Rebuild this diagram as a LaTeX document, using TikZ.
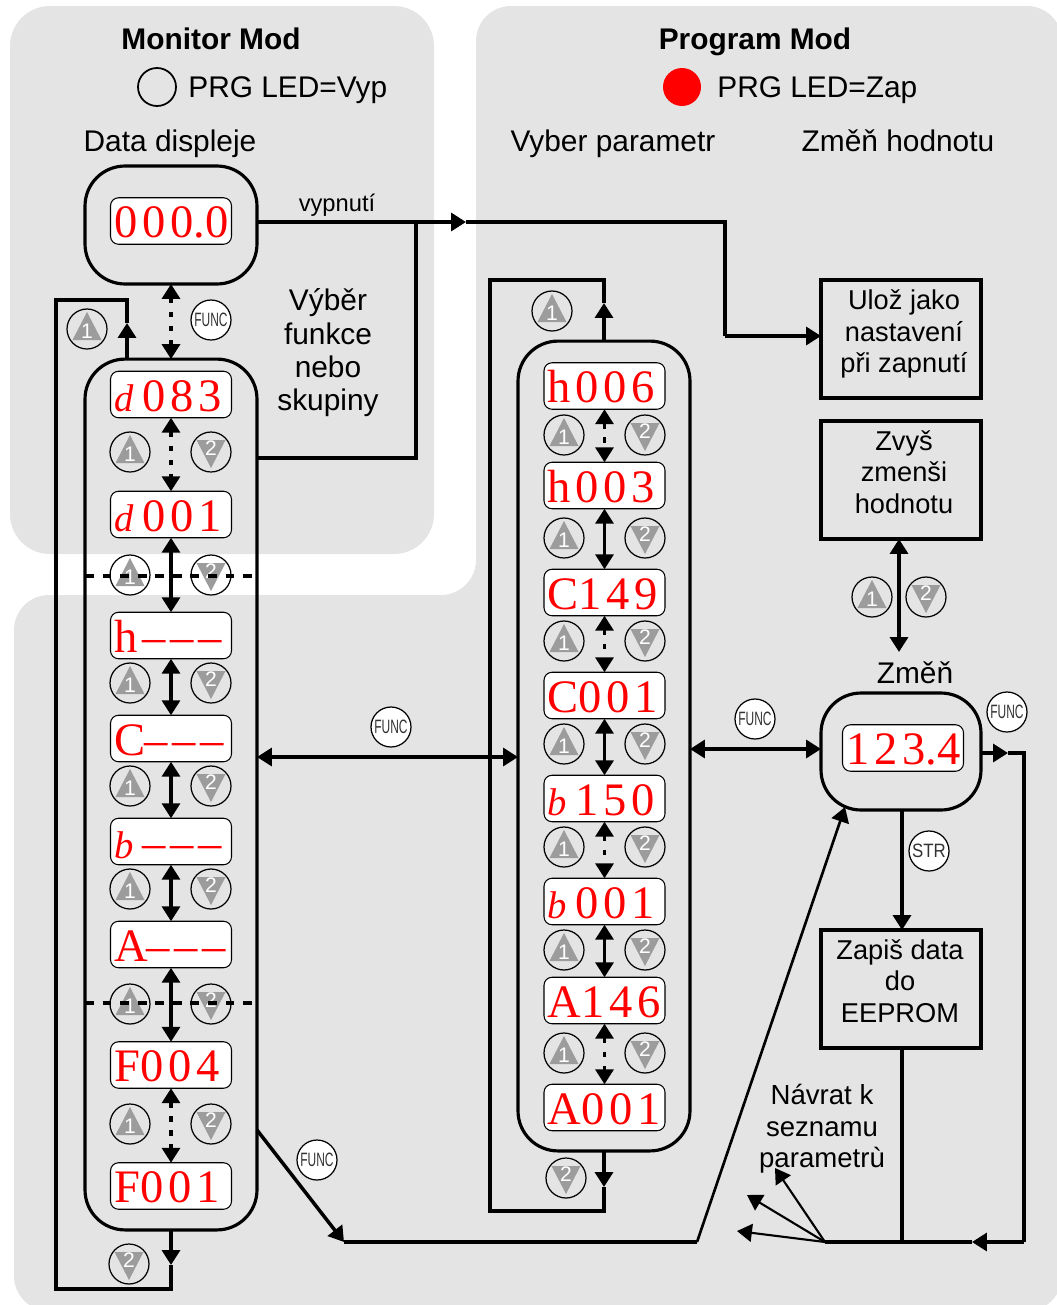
\documentclass[tikz,border=0pt]{standalone}
\usepackage{fontspec}
\setmainfont{Liberation Sans}
\newfontfamily\ledfont[LetterSpace=10]{Liberation Serif}
\usepackage{xcolor}
\usepackage{tikz}
\usetikzlibrary{arrows.meta}
\definecolor{panelgray}{HTML}{E4E4E4}
\definecolor{keygray}{HTML}{9C9C9C}
\newcommand{\ledrun}[1]{\makebox[68.6pt][l]{\hspace{2.1pt}#1}}
\newcommand{\ledlow}[1]{\makebox[15.9pt][l]{\fontsize{22pt}{22pt}\selectfont\itshape #1}}
\newcommand{\leddot}{\kern0pt.\kern0pt}

\begin{document}
\begin{tikzpicture}[x=0.02cm,y=-0.02cm]

    % --- Global Settings ---
    \tikzset{
        flow/.style={line width=2pt},
        flowarrow/.style={flow, -{Triangle[width=10.2pt,length=8.5pt]}},
        biarrow/.style={flow, {Triangle[width=10.2pt,length=8.5pt]}-{Triangle[width=10.2pt,length=8.5pt]}},
        dotarrow/.style={biarrow, dash pattern=on 3pt off 5pt},
        backarrow/.style={line width=1.2pt, -{Triangle[width=10.2pt,length=8.5pt]}},
        modeline/.style={flow, dash pattern=on 5pt off 5pt},
        pillbox/.style={draw, line width=1.8pt, rounded corners=0.8cm, inner sep=0pt, outer sep=0pt},
        stepbox/.style={draw, flow, minimum width=3.2cm, minimum height=2.36cm, inner sep=0pt, outer sep=0pt},
        ledbox/.style={draw, line width=0.6pt, fill=white, rounded corners=0.16cm,
            minimum width=2.42cm, minimum height=0.93cm, inner sep=0pt, outer sep=0pt,
            text height=0.66cm, text depth=0pt, text=red,
            font=\ledfont\fontsize{26.5pt}{26.5pt}\selectfont},
        keyring/.style={circle, draw, line width=0.7pt, minimum size=0.8cm, inner sep=0pt},
        keyword/.style={keyring, fill=white, font=\fontsize{11pt}{11pt}\selectfont, text=black!80},
        keynum/.style={inner sep=0pt, text=white, font=\fontsize{12pt}{12pt}\selectfont},
        caption/.style={align=center, inner sep=0pt, font=\fontsize{17pt}{19pt}\selectfont},
        headline/.style={inner sep=0pt, anchor=base, font=\fontsize{17pt}{19pt}\selectfont},
        keyone/.pic={
            \node[keyring] (-ring) at (0,0) {};
            \fill[keygray] (-14.5,11) -- (14.5,11) -- (0,-17) -- cycle;
            \node[keynum] (-num) at (0,2.5) {1};
        },
        keytwo/.pic={
            \node[keyring] (-ring) at (0,0) {};
            \fill[keygray] (-14.5,-12) -- (14.5,-12) -- (0,16) -- cycle;
            \node[keynum] (-num) at (0,-3.5) {2};
        }
    }

    \useasboundingbox (0,0) rectangle (1056,1305);

    % --- Background Panels ---
    \fill[panelgray, rounded corners=0.8cm] (10,6) rectangle (434,554);
    \fill[panelgray, rounded corners=0.7cm] (700,6) -- (1062,6) -- (1062,1311) -- (14,1311) -- (14,595)
        -- (476,595) -- (476,6) -- cycle;

    % --- Headings ---
    \node[headline, font=\bfseries\fontsize{17pt}{19pt}\selectfont] (montitle) at (211,49) {Monitor Mod};
    \node[headline, font=\bfseries\fontsize{17pt}{19pt}\selectfont] (progtitle) at (755,49) {Program Mod};
    \node[circle, draw, line width=1pt, minimum size=0.76cm, inner sep=0pt] (ledoff) at (157,87) {};
    \node[circle, fill=red, minimum size=0.76cm, inner sep=0pt] (ledon) at (682,87) {};
    \node[headline, anchor=base west] (ledofftext) at (188,97) {PRG LED=Vyp};
    \node[headline, anchor=base west] (ledontext) at (717,97) {PRG LED=Zap};
    \node[headline] (datatext) at (170,151) {Data displeje};
    \node[headline] (vybertext) at (613,151) {Vyber parametr};
    \node[headline] (hodntext) at (898,151) {Změň hodnotu};
    \node[caption, font=\fontsize{13.5pt}{15pt}\selectfont] (offtext) at (337,205) {vypnutí};
    \node[caption] (skuptext) at (328,353) {Výběr\\funkce\\nebo\\skupiny};
    \node[caption] (zmentext) at (915,673) {Změň};
    \node[caption, font=\fontsize{15.7pt}{18pt}\selectfont] (navrattext) at (822,1129) {Návrat k\\seznamu\\parametrù};

    % --- Big Rounded Boxes ---
    \node[pillbox, minimum width=3.44cm, minimum height=2.36cm] (datapill) at (171,225) {};
    \node[pillbox, minimum width=3.44cm, minimum height=17.42cm] (funcpill) at (171,794.5) {};
    \node[pillbox, minimum width=3.44cm, minimum height=16.2cm] (parampill) at (604,746) {};
    \node[pillbox, minimum width=3.2cm, minimum height=2.34cm] (editpill) at (901,751.5) {};

    % --- Step Boxes ---
    \node[stepbox] (savebox) at (901,339) {};
    \node[stepbox] (valuebox) at (901,480) {};
    \node[stepbox] (eeprombox) at (901,989) {};
    \node[caption, font=\fontsize{15.5pt}{18pt}\selectfont] (savetext) at (904,334) {Ulož jako\\nastavení\\při zapnutí};
    \node[caption, font=\fontsize{15.5pt}{18pt}\selectfont] (valuetext) at (904,472) {Zvyš\\zmenši\\hodnotu};
    \node[caption, font=\fontsize{15.5pt}{18pt}\selectfont] (eepromtext) at (900,981) {Zapiš data\\do\\EEPROM};

    % --- Displays ---
    \node[ledbox] (dataled) at (171,221) {\ledrun{000\leddot0}};
    \node[ledbox] (editled) at (903,748) {\ledrun{123\leddot4}};
    \foreach \nm/\y/\txt in {d083/394.5/{\ledlow{d}083}, d001/514.5/{\ledlow{d}001},
        hdash/635.5/{h–––}, Cdash/738.5/{C\kern-0.7pt–––}, bdash/841.5/{\ledlow{b}–––}, Adash/944.5/{A\kern-1pt–––},
        F004/1065/{F\kern0pt004}, F001/1186/{F\kern0pt001}} {
        \node[ledbox] (\nm) at (171,\y) {\ledrun{\txt}};
    }
    \foreach \nm/\y/\txt in {h006/386/{h006}, h003/485.5/{h003}, C149/592.5/{C\kern0pt149}, C001/695.5/{C\kern0pt001},
        b150/798.5/{\ledlow{b}150}, b001/901.5/{\ledlow{b}001}, A146/1000.5/{A\kern0pt146}, A001/1107.5/{A\kern0pt001}} {
        \node[ledbox] (\nm) at (604.5,\y) {\ledrun{\txt}};
    }

    % --- Keys ---
    \foreach \y in {452,575,683,786,889,1004,1124} {
        \pic (lup\y) at (130,\y) {keyone};
        \pic (ldn\y) at (211,\y) {keytwo};
    }
    \foreach \y in {435,538,641,744,847,950,1053} {
        \pic (rup\y) at (564,\y) {keyone};
        \pic (rdn\y) at (645,\y) {keytwo};
    }
    \pic (lloopup) at (87,329) {keyone};
    \pic (lloopdn) at (129,1264) {keytwo};
    \pic (rloopup) at (552,311) {keyone};
    \pic (rloopdn) at (566,1178) {keytwo};
    \pic (valup) at (872,597) {keyone};
    \pic (valdn) at (926,597) {keytwo};
    \foreach \nm/\x/\y in {funca/211/320, funcb/391/727, funcc/755/719, funcd/1007/712, funce/317/1160} {
        \node[keyword] (\nm) at (\x,\y) {\scalebox{0.62}[1]{FUNC}};
    }
    \node[keyword] (strkey) at (929,851) {\scalebox{0.87}[1]{STR}};

    % --- Links Inside The Columns ---
    \draw[dotarrow] (datapill.south) -- (funcpill.north);
    \draw[dotarrow] (d083.south) -- (d001.north);
    \draw[biarrow] (d001.south) -- (hdash.north);
    \draw[biarrow] (hdash.south) -- (Cdash.north);
    \draw[biarrow] (Cdash.south) -- (bdash.north);
    \draw[biarrow] (bdash.south) -- (Adash.north);
    \draw[biarrow] (Adash.south) -- (F004.north);
    \draw[dotarrow] (F004.south) -- (F001.north);
    \draw[dotarrow] (h006.south) -- (h003.north);
    \draw[biarrow] (h003.south) -- (C149.north);
    \draw[dotarrow] (C149.south) -- (C001.north);
    \draw[biarrow] (C001.south) -- (b150.north);
    \draw[dotarrow] (b150.south) -- (b001.north);
    \draw[biarrow] (b001.south) -- (A146.north);
    \draw[dotarrow] (A146.south) -- (A001.north);

    % Mode borders across the left column
    \coordinate (bordera) at (171,576);
    \coordinate (borderb) at (171,1003);
    \draw[modeline] (funcpill.west |- bordera) -- (funcpill.east |- bordera);
    \draw[modeline] (funcpill.west |- borderb) -- (funcpill.east |- borderb);

    % --- Loops Round The Columns ---
    \coordinate (lloopa) at (127,323); \coordinate (lloopb) at (127,300);
    \coordinate (lloopc) at (56,1289); \coordinate (lloopd) at (171,1265);
    \draw[flowarrow] (funcpill.north -| lloopa) -- (lloopa);
    \draw[flow] (lloopa) -- (lloopb) -| (lloopc) -| (lloopd);
    \draw[flowarrow] (funcpill.south) -- (lloopd);

    \coordinate (rloopa) at (604,303); \coordinate (rloopb) at (604,280);
    \coordinate (rloopc) at (490,1211); \coordinate (rloopd) at (604,1187);
    \draw[flowarrow] (parampill.north) -- (rloopa);
    \draw[flow] (rloopa) -- (rloopb) -| (rloopc) -| (rloopd);
    \draw[flowarrow] (parampill.south) -- (rloopd);

    % --- Power Off Line ---
    \coordinate (offtip) at (466,222);
    \coordinate (offjoin) at (416,222);
    \coordinate (offturn) at (725,336);
    \coordinate (groupout) at (416,458);
    \draw[flowarrow] (datapill.east |- offtip) -- (offtip);
    \draw[flow] (offtip) -| (offturn);
    \draw[flowarrow] (offturn) -- (savebox.west |- offturn);
    \draw[flow] (offjoin) -- (groupout) -- (funcpill.east |- groupout);

    % --- Links To The Edit Box ---
    \coordinate (railb) at (518,757);
    \coordinate (railc) at (690,749);
    \coordinate (valtip) at (899,652);
    \coordinate (strx) at (902,810);
    \coordinate (outtip) at (1008,753);
    \coordinate (outturn) at (1024,1242);
    \coordinate (backtip) at (972,1242);
    \coordinate (backend) at (825,1242);
    \coordinate (funcout) at (257,1130);
    \coordinate (funcbend) at (344,1242);
    \coordinate (upbend) at (697,1242);
    \coordinate (uptip) at (845,807);
    \draw[biarrow] (funcpill.east |- railb) -- (parampill.west |- railb);
    \draw[biarrow] (parampill.east |- railc) -- (editpill.west |- railc);
    \draw[biarrow] (valuebox.south -| valtip) -- (valtip);
    \draw[flowarrow] (editpill.south -| strx) -- (eeprombox.north -| strx);
    \draw[flowarrow] (editpill.east |- outtip) -- (outtip);
    \draw[flow] (outtip) -| (outturn);
    \draw[flowarrow] (outturn) -- (backtip);
    \draw[flow] (backtip) -- (backend);
    \draw[flow] (eeprombox.south -| strx) -- (strx |- backend);
    \draw[flowarrow] (funcout) -- (funcbend);
    \draw[flow] (funcbend) -- (upbend);
    \draw[flowarrow, line width=1.5pt] (upbend) -- (uptip);

    % Return arrows
    \coordinate (backa) at (775,1168);
    \coordinate (backb) at (747,1195);
    \coordinate (backc) at (737,1231);
    \foreach \i in {a,b,c} {
        \draw[backarrow] (backend) -- (back\i);
    }

\end{tikzpicture}
\end{document}
